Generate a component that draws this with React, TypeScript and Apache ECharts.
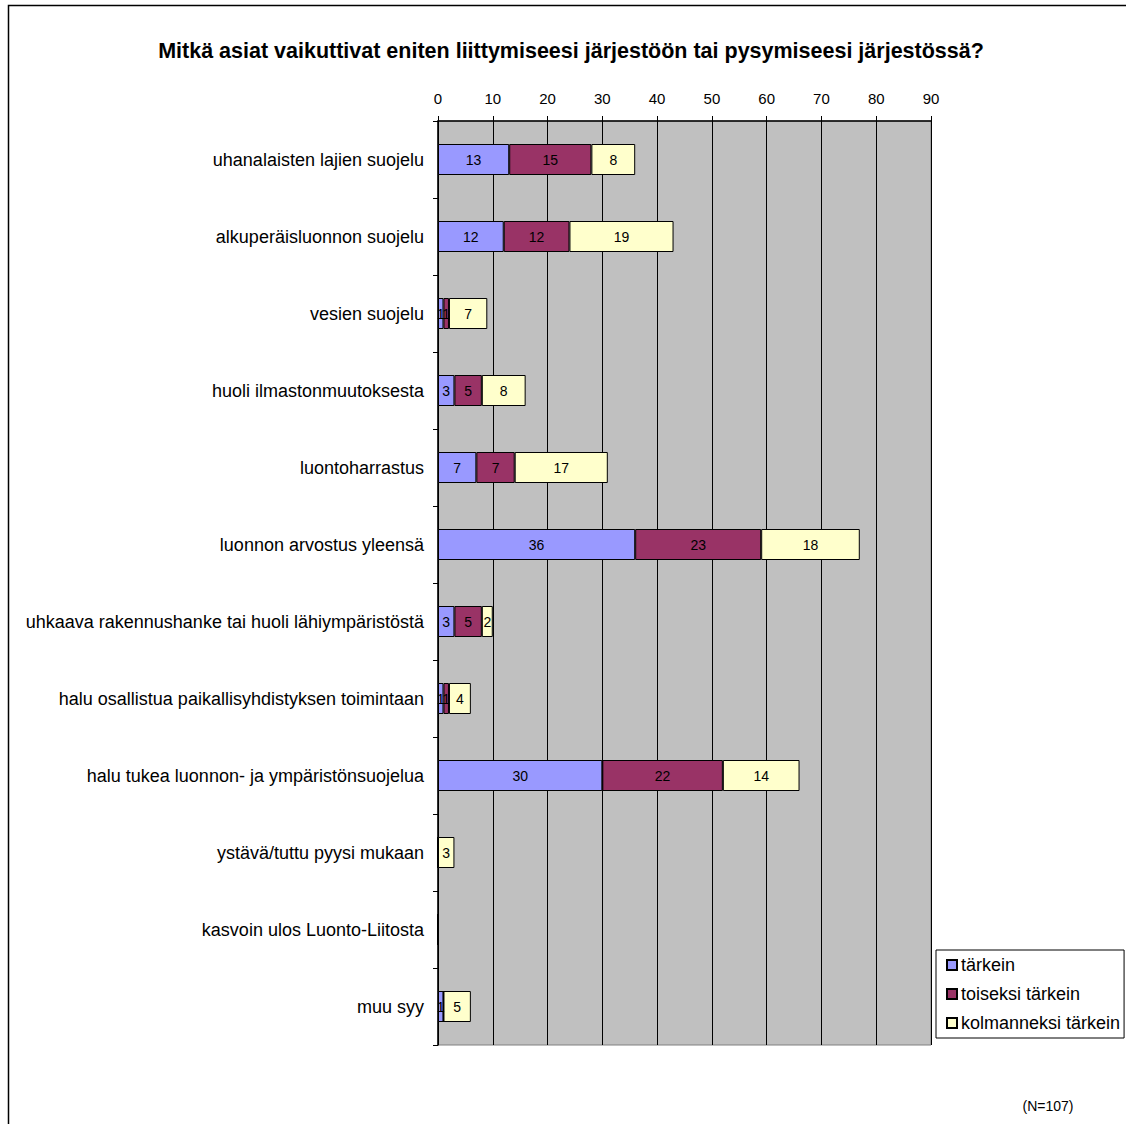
import React, { useEffect, useRef } from "react";
import * as echarts from "echarts";

const categories = [
  "uhanalaisten lajien suojelu",
  "alkuperäisluonnon suojelu",
  "vesien suojelu",
  "huoli ilmastonmuutoksesta",
  "luontoharrastus",
  "luonnon arvostus yleensä",
  "uhkaava rakennushanke tai huoli lähiympäristöstä",
  "halu osallistua paikallisyhdistyksen toimintaan",
  "halu tukea luonnon- ja ympäristönsuojelua",
  "ystävä/tuttu pyysi mukaan",
  "kasvoin ulos Luonto-Liitosta",
  "muu syy",
];
const tarkein = [13, 12, 1, 3, 7, 36, 3, 1, 30, 0, 0, 1];
const toiseksi = [15, 12, 1, 5, 7, 23, 5, 1, 22, 0, 0, 0];
const kolmanneksi = [8, 19, 7, 8, 17, 18, 2, 4, 14, 3, 0, 5];
const seriesNames = ["tärkein", "toiseksi tärkein", "kolmanneksi tärkein"];
const xTicks = { min: 0, max: 90, interval: 10 };
const titleText = "Mitkä asiat vaikuttivat eniten liittymiseesi järjestöön tai pysymiseesi järjestössä?";
const noteText = "(N=107)";

const FONT = "Liberation Sans, Arial, sans-serif";

export default function App() {
  const ref = useRef<HTMLDivElement>(null);
  useEffect(() => {
    if (!ref.current) return;
    const chart = echarts.init(ref.current, null, { renderer: "svg" });
    const colors = ["#9999FF", "#993366", "#FFFFCC"];
    const mk = (name: string, data: number[], color: string) => ({
      name,
      type: "bar",
      stack: "total",
      data,
      barWidth: 31,
      itemStyle: { color, borderColor: "#000", borderWidth: 1 },
      label: {
        show: true,
        position: "inside",
        color: "#000",
        fontFamily: FONT,
        fontSize: 14,
        formatter: (p: any) => (p.value ? String(p.value) : ""),
      },
    });
    chart.setOption({
      animation: false,
      backgroundColor: "#fff",
      textStyle: { fontFamily: FONT },
      title: {
        text: titleText,
        left: 566,
        textAlign: "center",
        top: 35,
        textStyle: { fontFamily: FONT, fontSize: 21.5, fontWeight: "bold", color: "#000" },
      },
      legend: {
        orient: "vertical",
        left: 936,
        top: 950,
        backgroundColor: "#fff",
        borderColor: "#000",
        borderWidth: 1,
        padding: [6, 4, 6, 10],
        itemGap: 11,
        itemWidth: 10,
        itemHeight: 10,
        icon: "rect",
        textStyle: { fontFamily: FONT, fontSize: 18, color: "#000", padding: [0, 0, 0, -1] },
        data: seriesNames,
      },
      grid: {
        left: 438,
        top: 121,
        right: 195,
        bottom: 79,
        show: true,
        backgroundColor: "#C0C0C0",
        borderColor: "#808080",
        borderWidth: 1,
      },
      xAxis: {
        type: "value",
        position: "top",
        min: xTicks.min,
        max: xTicks.max,
        interval: xTicks.interval,
        axisLine: { show: true, lineStyle: { color: "#000", width: 1.5 } },
        axisTick: { show: true, length: 5, lineStyle: { color: "#000" } },
        splitLine: { show: true, lineStyle: { color: "#000", width: 1 } },
        axisLabel: { color: "#000", fontSize: 15, fontFamily: FONT, margin: 15 },
      },
      yAxis: {
        type: "category",
        inverse: true,
        data: categories,
        axisLine: { show: true, lineStyle: { color: "#000", width: 1.5 } },
        axisTick: { show: true, length: 5, lineStyle: { color: "#000" } },
        axisLabel: { color: "#000", fontSize: 18, fontFamily: FONT, margin: 14 },
      },
      series: [
        mk(seriesNames[0], tarkein, colors[0]),
        mk(seriesNames[1], toiseksi, colors[1]),
        mk(seriesNames[2], kolmanneksi, colors[2]),
      ],
      graphic: [
        {
          type: "rect",
          shape: { x: 8.5, y: 5.5, width: 1200, height: 1200 },
          style: { fill: "none", stroke: "#000", lineWidth: 1.5 },
          silent: true,
          z: -1,
        },
        {
          type: "text",
          x: 1048,
          y: 1106,
          style: {
            text: noteText,
            fill: "#000",
            font: `14px ${FONT}`,
            textAlign: "center",
            textVerticalAlign: "middle",
          },
        },
      ],
    });
    return () => chart.dispose();
  }, []);
  return (
    <div
      ref={ref}
      style={{ position: "fixed", left: 0, top: 0, width: 1126, height: 1124 }}
    />
  );
}
